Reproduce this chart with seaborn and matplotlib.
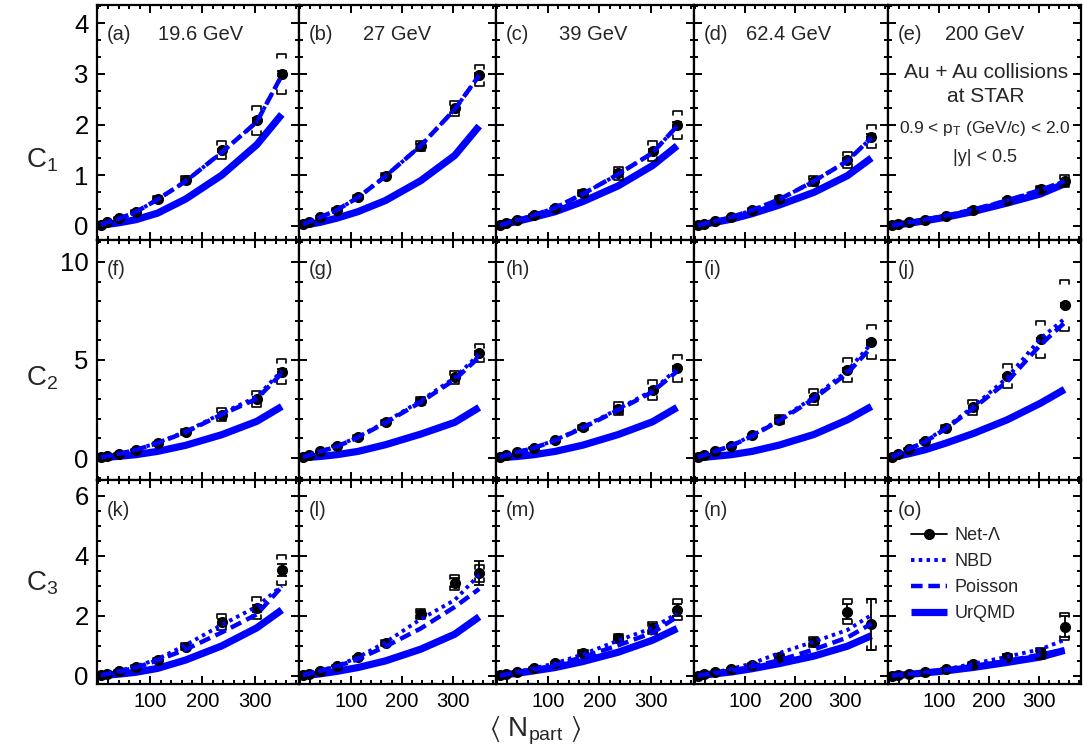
import matplotlib
matplotlib.use("Agg")
import matplotlib.pyplot as plt
import seaborn as sns
from matplotlib.lines import Line2D
from matplotlib.ticker import FixedLocator, MultipleLocator

sns.set_style("ticks")
plt.rcParams["font.family"] = ["Liberation Sans", "DejaVu Sans"]
plt.rcParams["mathtext.default"] = "regular"

# ---- data ----
energies = ["19.6 GeV", "27 GeV", "39 GeV", "62.4 GeV", "200 GeV"]
npart = [6, 18, 40, 72, 114, 168, 237, 304, 352]

# C1 (one list per energy)
c1_netl = [[0.02, 0.07, 0.15, 0.27, 0.53, 0.90, 1.49, 2.08, 3.00],
           [0.03, 0.08, 0.17, 0.32, 0.56, 0.99, 1.58, 2.32, 2.97],
           [0.01, 0.05, 0.12, 0.21, 0.36, 0.64, 1.04, 1.47, 1.99],
           [0.01, 0.04, 0.09, 0.17, 0.32, 0.53, 0.89, 1.30, 1.76],
           [0.01, 0.03, 0.07, 0.12, 0.20, 0.32, 0.50, 0.72, 0.88]]
c1_stat = [[0.01, 0.01, 0.01, 0.01, 0.02, 0.02, 0.03, 0.04, 0.05]] * 5
c1_sys = [[0.01, 0.02, 0.03, 0.04, 0.05, 0.08, 0.18, 0.28, 0.40],
          [0.01, 0.01, 0.02, 0.03, 0.04, 0.05, 0.10, 0.15, 0.21],
          [0.01, 0.01, 0.02, 0.03, 0.04, 0.06, 0.13, 0.20, 0.28],
          [0.01, 0.01, 0.02, 0.03, 0.04, 0.05, 0.10, 0.16, 0.23],
          [0.01, 0.01, 0.01, 0.02, 0.02, 0.03, 0.04, 0.06, 0.12]]
c1_pois = [[0.02, 0.07, 0.14, 0.27, 0.52, 0.88, 1.45, 2.05, 2.97],
           [0.03, 0.08, 0.17, 0.31, 0.56, 0.98, 1.58, 2.30, 2.97],
           [0.01, 0.05, 0.11, 0.21, 0.36, 0.63, 1.02, 1.44, 1.97],
           [0.01, 0.04, 0.09, 0.17, 0.31, 0.52, 0.88, 1.28, 1.74],
           [0.01, 0.03, 0.07, 0.12, 0.20, 0.32, 0.50, 0.71, 0.88]]
c1_nbd = c1_pois  # same mean, hidden under the dashed line
c1_urqmd = [[0.01, 0.03, 0.06, 0.12, 0.25, 0.53, 1.00, 1.60, 2.20],
            [0.01, 0.03, 0.07, 0.15, 0.28, 0.50, 0.89, 1.39, 1.97],
            [0.01, 0.04, 0.09, 0.17, 0.28, 0.48, 0.79, 1.19, 1.58],
            [0.01, 0.03, 0.07, 0.13, 0.24, 0.41, 0.66, 0.99, 1.34],
            [0.01, 0.02, 0.05, 0.10, 0.17, 0.28, 0.45, 0.63, 0.83]]

# C2
c2_netl = [[0.03, 0.10, 0.22, 0.42, 0.76, 1.32, 2.21, 3.00, 4.41],
           [0.04, 0.15, 0.34, 0.59, 1.07, 1.82, 2.92, 4.11, 5.35],
           [0.04, 0.14, 0.31, 0.51, 0.90, 1.56, 2.51, 3.48, 4.58],
           [0.04, 0.15, 0.35, 0.63, 1.15, 1.95, 3.11, 4.50, 5.91],
           [0.05, 0.20, 0.47, 0.85, 1.53, 2.58, 4.19, 6.05, 7.80]]
c2_stat = [[0.01, 0.02, 0.02, 0.03, 0.04, 0.05, 0.07, 0.09, 0.12]] * 5
c2_sys = [[0.01, 0.02, 0.03, 0.05, 0.08, 0.15, 0.32, 0.40, 0.62],
          [0.01, 0.02, 0.03, 0.05, 0.08, 0.12, 0.21, 0.31, 0.45],
          [0.01, 0.02, 0.03, 0.05, 0.08, 0.15, 0.34, 0.51, 0.70],
          [0.01, 0.02, 0.04, 0.06, 0.10, 0.23, 0.40, 0.61, 0.85],
          [0.01, 0.02, 0.05, 0.08, 0.15, 0.38, 0.60, 0.96, 1.30]]
c2_nbd = [[0.03, 0.10, 0.22, 0.42, 0.78, 1.35, 2.28, 3.12, 4.45],
          [0.04, 0.15, 0.34, 0.60, 1.08, 1.84, 2.92, 4.10, 5.30],
          [0.04, 0.14, 0.31, 0.52, 0.92, 1.58, 2.50, 3.45, 4.55],
          [0.04, 0.15, 0.35, 0.63, 1.15, 1.95, 3.10, 4.45, 5.85],
          [0.05, 0.20, 0.47, 0.85, 1.55, 2.60, 4.10, 6.10, 7.10]]
c2_pois = [[0.03, 0.10, 0.21, 0.41, 0.76, 1.32, 2.22, 3.02, 4.32],
           [0.04, 0.15, 0.33, 0.58, 1.05, 1.80, 2.85, 4.00, 5.15],
           [0.04, 0.14, 0.30, 0.51, 0.90, 1.54, 2.45, 3.38, 4.42],
           [0.04, 0.15, 0.34, 0.62, 1.12, 1.90, 3.02, 4.33, 5.65],
           [0.05, 0.20, 0.46, 0.82, 1.50, 2.52, 3.90, 5.78, 6.90]]
c2_urqmd = [[0.01, 0.04, 0.09, 0.17, 0.34, 0.65, 1.19, 1.87, 2.63],
            [0.01, 0.04, 0.08, 0.17, 0.34, 0.68, 1.22, 1.82, 2.58],
            [0.01, 0.04, 0.08, 0.17, 0.34, 0.66, 1.20, 1.85, 2.58],
            [0.01, 0.04, 0.09, 0.17, 0.34, 0.66, 1.20, 1.95, 2.63],
            [0.03, 0.10, 0.22, 0.42, 0.76, 1.24, 1.95, 2.80, 3.50]]

# C3
c3_netl = [[0.02, 0.08, 0.18, 0.31, 0.53, 0.98, 1.81, 2.26, 3.53],
           [0.02, 0.08, 0.18, 0.34, 0.62, 1.11, 2.07, 3.11, 3.42],
           [0.02, 0.06, 0.14, 0.25, 0.42, 0.75, 1.25, 1.60, 2.20],
           [0.01, 0.05, 0.12, 0.22, 0.37, 0.64, 1.14, 2.14, 1.72],
           [0.01, 0.03, 0.07, 0.12, 0.22, 0.40, 0.64, 0.76, 1.64]]
c3_stat = [[0.01, 0.01, 0.02, 0.02, 0.03, 0.05, 0.08, 0.12, 0.20],
           [0.01, 0.01, 0.02, 0.02, 0.03, 0.05, 0.10, 0.15, 0.40],
           [0.01, 0.01, 0.02, 0.02, 0.03, 0.05, 0.08, 0.12, 0.20],
           [0.01, 0.01, 0.02, 0.02, 0.03, 0.05, 0.10, 0.25, 0.86],
           [0.01, 0.01, 0.02, 0.02, 0.03, 0.05, 0.08, 0.10, 0.35]]
c3_sys = [[0.01, 0.02, 0.03, 0.04, 0.06, 0.13, 0.27, 0.37, 0.50],
          [0.01, 0.02, 0.03, 0.04, 0.06, 0.10, 0.17, 0.26, 0.28],
          [0.01, 0.02, 0.03, 0.04, 0.06, 0.10, 0.15, 0.20, 0.35],
          [0.01, 0.01, 0.02, 0.03, 0.05, 0.08, 0.17, 0.42, 0.86],
          [0.01, 0.01, 0.02, 0.03, 0.04, 0.06, 0.10, 0.18, 0.45]]
c3_nbd = [[0.02, 0.07, 0.17, 0.31, 0.56, 1.03, 1.70, 2.31, 3.00],
          [0.02, 0.07, 0.17, 0.33, 0.62, 1.12, 1.89, 2.53, 3.37],
          [0.02, 0.06, 0.14, 0.25, 0.42, 0.72, 1.18, 1.60, 2.08],
          [0.01, 0.05, 0.12, 0.23, 0.42, 0.76, 1.14, 1.53, 2.03],
          [0.01, 0.03, 0.06, 0.12, 0.22, 0.40, 0.64, 0.89, 1.20]]
c3_pois = [[0.02, 0.07, 0.14, 0.27, 0.52, 0.88, 1.45, 2.05, 2.97],
           [0.03, 0.08, 0.17, 0.31, 0.56, 0.98, 1.58, 2.30, 2.90],
           [0.01, 0.05, 0.11, 0.21, 0.36, 0.63, 1.02, 1.44, 1.97],
           [0.01, 0.04, 0.09, 0.17, 0.31, 0.52, 0.88, 1.28, 1.74],
           [0.01, 0.03, 0.07, 0.12, 0.20, 0.32, 0.50, 0.71, 0.88]]
c3_urqmd = [[0.01, 0.03, 0.06, 0.12, 0.25, 0.53, 1.00, 1.60, 2.20],
            [0.01, 0.03, 0.07, 0.15, 0.28, 0.50, 0.89, 1.39, 1.97],
            [0.01, 0.04, 0.09, 0.17, 0.28, 0.48, 0.79, 1.19, 1.58],
            [0.01, 0.03, 0.07, 0.13, 0.24, 0.41, 0.66, 0.99, 1.34],
            [0.01, 0.02, 0.05, 0.10, 0.17, 0.28, 0.45, 0.63, 0.85]]

rows = [
    dict(netl=c1_netl, stat=c1_stat, sys=c1_sys, nbd=c1_nbd, pois=c1_pois, urqmd=c1_urqmd),
    dict(netl=c2_netl, stat=c2_stat, sys=c2_sys, nbd=c2_nbd, pois=c2_pois, urqmd=c2_urqmd),
    dict(netl=c3_netl, stat=c3_stat, sys=c3_sys, nbd=c3_nbd, pois=c3_pois, urqmd=c3_urqmd),
]
panel_tags = "abcdefghijklmno"

# ---- layout (pixels) ----
W, H = 1083, 748
col_edges = [97, 299, 496, 694, 888, 1081]
row_edges = [5, 240, 480, 684]
ylims = [(-0.28, 4.36), (-1.12, 11.12), (-0.27, 6.53)]
yticks = [[0, 1, 2, 3, 4], [0, 5, 10], [0, 2, 4, 6]]
yminor = [1 / 3, 1, 0.5]
xlim = (-2, 385)
energy_x = [0.30, 0.325, 0.32, 0.27, 0.295]

blue = "#0000ff"
dash_pois = (0, (2.6, 1.3))
dot_nbd = (0, (0.9, 1.1))

fig = plt.figure(figsize=(W / 100, H / 100), dpi=100)


def sys_brackets(ax, x, y, s, hw, leg):
    for xi, yi, si in zip(x, y, s):
        lg = min(leg, si)
        for sgn in (1, -1):
            yy = yi + sgn * si
            ax.plot([xi - hw, xi - hw, xi + hw, xi + hw],
                    [yy - sgn * lg, yy, yy, yy - sgn * lg],
                    color="black", lw=1.2, zorder=4)


for r in range(3):
    d = rows[r]
    for c in range(5):
        x0, x1 = col_edges[c], col_edges[c + 1]
        y0, y1 = row_edges[r], row_edges[r + 1]
        ax = fig.add_axes([x0 / W, 1 - y1 / H, (x1 - x0) / W, (y1 - y0) / H])
        ax.set_xlim(*xlim)
        ax.set_ylim(*ylims[r])

        sns.lineplot(x=npart, y=d["urqmd"][c], ax=ax, color=blue, lw=5.2,
                     solid_capstyle="butt", zorder=2)

        ppu = (y1 - y0) / (ylims[r][1] - ylims[r][0])
        sys_brackets(ax, npart, d["netl"][c], d["sys"][c], 9, 4.0 / ppu)
        ax.errorbar(npart, d["netl"][c], yerr=d["stat"][c], fmt="o", color="black",
                    ms=7, elinewidth=1.3, capsize=3.5, capthick=1.3, zorder=5)

        sns.lineplot(x=npart, y=d["nbd"][c], ax=ax, color=blue, lw=2.8,
                     linestyle=dot_nbd, zorder=6)
        sns.lineplot(x=npart, y=d["pois"][c], ax=ax, color=blue, lw=3.2,
                     linestyle=dash_pois, zorder=6)

        ax.xaxis.set_major_locator(FixedLocator([100, 200, 300]))
        ax.xaxis.set_minor_locator(MultipleLocator(20))
        ax.yaxis.set_major_locator(FixedLocator(yticks[r]))
        ax.yaxis.set_minor_locator(MultipleLocator(yminor[r]))
        ax.tick_params(which="both", direction="in", top=True, right=True,
                       width=1.4, colors="black")
        ax.tick_params(which="major", length=6)
        ax.tick_params(which="minor", length=3)
        ax.tick_params(axis="y", labelsize=18.5, pad=6)
        ax.tick_params(axis="x", labelsize=14.5, pad=6)
        if c > 0:
            ax.set_yticklabels([])
        if r < 2:
            ax.set_xticklabels([])
        for sp in ax.spines.values():
            sp.set_linewidth(1.6)
            sp.set_color("black")
        ax.set_xlabel("")
        ax.set_ylabel("")

        tag = panel_tags[r * 5 + c]
        ax.text(0.05, 1 - 30 / (y1 - y0), f"({tag})", transform=ax.transAxes,
                fontsize=14.5, ha="left", va="center")
        if r == 0:
            ax.text(energy_x[c], 1 - 30 / (y1 - y0), energies[c], transform=ax.transAxes,
                    fontsize=14.5, ha="left", va="center")

        if r == 2 and c == 4:
            handles = [
                Line2D([], [], color="black", marker="o", ms=7, lw=1.3),
                Line2D([], [], color=blue, lw=2.8, linestyle=dot_nbd),
                Line2D([], [], color=blue, lw=3.2, linestyle=dash_pois),
                Line2D([], [], color=blue, lw=5.2, solid_capstyle="butt"),
            ]
            ax.legend(handles, ["Net-Λ", "NBD", "Poisson", "UrQMD"],
                      loc="upper left", bbox_to_anchor=(0.12, 0.77),
                      frameon=False, fontsize=13, handlelength=2.0,
                      handletextpad=0.4, labelspacing=0.5, borderpad=0,
                      borderaxespad=0)


def ftext(x, y, s, **kw):
    fig.text(x / W, 1 - y / H, s, ha="center", va="center", **kw)


ftext(986, 72, "Au + Au collisions", fontsize=15)
ftext(986, 97, "at STAR", fontsize=15)
ftext(985, 128, "0.9 < p$_{T}$ (GeV/c) < 2.0", fontsize=12.5)
ftext(985, 157, "|y| < 0.5", fontsize=13)

ftext(42, 160, "C$_{1}$", fontsize=20)
ftext(42, 378, "C$_{2}$", fontsize=20)
ftext(42, 583, "C$_{3}$", fontsize=20)
ftext(535, 731, r"$\langle$ N$_{part}$ $\rangle$", fontsize=20)

fig.savefig("out.png", dpi=100)
